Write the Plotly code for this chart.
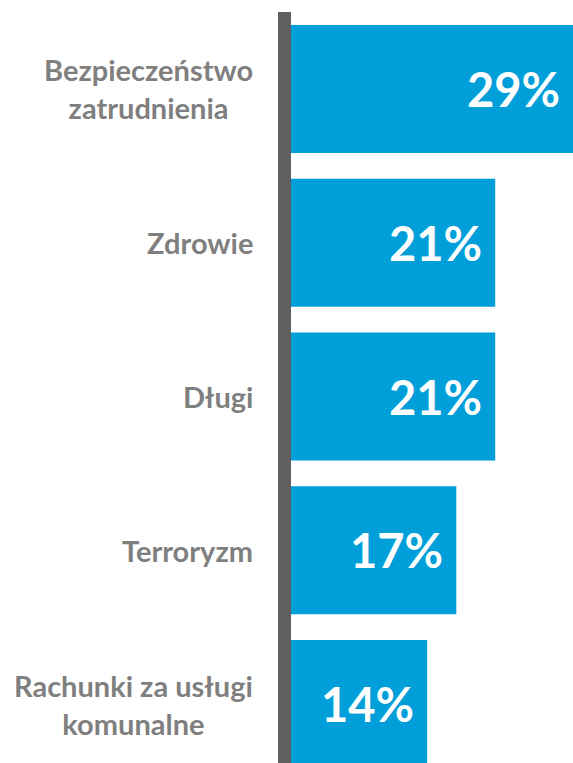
import plotly.graph_objects as go

categories = ["Bezpieczeństwo<br>zatrudnienia", "Zdrowie", "Długi", "Terroryzm", "Rachunki za usługi<br>komunalne"]
values = [29, 21, 21, 17, 14]
value_labels = ["29%", "21%", "21%", "17%", "14%"]

BAR = "#009FD9"
fig = go.Figure(go.Bar(
    x=values, y=categories, orientation="h",
    marker=dict(color=BAR, line=dict(width=0)),
    hoverinfo="skip",
))

for c, v, t in zip(categories, values, value_labels):
    fig.add_annotation(x=v, y=c, xref="x", yref="y", text=t, showarrow=False,
                       xanchor="right", yanchor="middle", xshift=-11, yshift=0,
                       font=dict(family="Lato", size=47, color="white", weight="bold"))
    fig.add_annotation(x=0, y=c, xref="paper", yref="y", text=c, showarrow=False,
                       xanchor="right", yanchor="middle", xshift=-36, align="center",
                       font=dict(family="Lato", size=29, color="#7F7F7F", weight="bold"))

fig.add_shape(type="rect", xref="paper", yref="paper", xsizemode="pixel", xanchor=0,
              x0=-13, x1=0, y0=0, y1=1, fillcolor="#5F5F5F", line=dict(width=0))

fig.update_layout(
    width=573, height=763,
    margin=dict(l=291, r=0, t=12, b=0),
    paper_bgcolor="white", plot_bgcolor="white",
    showlegend=False, bargap=0.168,
    xaxis=dict(range=[0, 29], visible=False, fixedrange=True),
    yaxis=dict(type="category", range=[4.383, -0.5], showgrid=False, zeroline=False,
               showline=False, ticks="", showticklabels=False),
)

fig.write_html("out.html")
